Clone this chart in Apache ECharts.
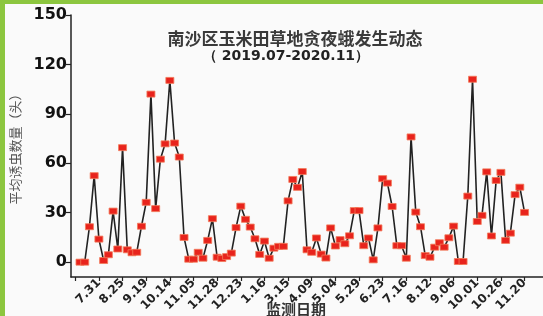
<!DOCTYPE html>
<html>
<head>
<meta charset="utf-8">
<script src="https://cdn.jsdelivr.net/npm/echarts@6/dist/echarts.min.js"></script>
<style>
html,body{margin:0;padding:0;background:#fafafa;}
#c{width:543px;height:316px;}
</style>
</head>
<body>
<div id="c"></div>
<script>
// Average moth counts per monitoring occasion (95 occasions, 2019.07-2020.11)
var mothCounts = [
  0, 0, 21.5, 52.5, 14, 1, 4.5, 31, 8, 69.5,
  7.5, 5.7, 6, 21.8, 36.3, 102, 32.5, 62.5, 71.8, 110.3,
  72.3, 63.8, 15, 1.8, 1.8, 6, 2.4, 13.2, 26.4, 3,
  2.2, 3.4, 5.5, 21, 34, 26, 21.3, 14.2, 4.7, 12.8,
  2.4, 8.5, 9.6, 9.6, 37.2, 50.2, 45.4, 55, 7.5, 6,
  14.7, 4.9, 2.5, 20.8, 9.8, 13.7, 11.2, 16, 31.3, 31.3,
  10, 14.7, 1.4, 20.8, 50.7, 48, 33.8, 10, 10, 2.4,
  76, 30.4, 21.5, 4, 3, 9.1, 11.8, 9.1, 14.8, 21.9,
  0.4, 0.4, 40.1, 111, 24.7, 28.4, 54.8, 15.9, 49.6, 54.5,
  13.2, 17.6, 41, 45.5, 30.2
];
// Date labels on every 5th occasion (first tick unlabeled)
var dateLabels = ['', '7.31', '8.25', '9.19', '10.14', '11.05', '11.28', '12.23', '1.16', '3.15',
  '4.09', '5.04', '5.29', '6.23', '7.16', '8.12', '9.06', '10.01', '10.26', '11.20'];
var dateStep = 5;
var yTicks = [0, 30, 60, 90, 120, 150];

var xTickValues = dateLabels.map(function (_, i) { return i * dateStep; });
var seriesData = mothCounts.map(function (v, i) { return [i + 1, v]; });

var chart = echarts.init(document.getElementById('c'), null, {renderer: 'canvas'});
chart.setOption({
  backgroundColor: '#fafafa',
  animation: false,
  title: [
    {text: '南沙区玉米田草地贪夜蛾发生动态', left: 290, top: 25, textAlign: 'center',
     textStyle: {fontFamily: 'Noto Sans CJK SC', fontSize: 17, fontWeight: 'bold', color: '#3a3a3a'}},
    {text: '（ 2019.07-2020.11）', left: 281, top: 44, textAlign: 'center',
     textStyle: {fontFamily: 'DejaVu Sans', fontSize: 14, fontWeight: 'bold', color: '#222'}}
  ],
  graphic: [
    {type: 'rect', left: 0, top: 0, shape: {width: 543, height: 4}, style: {fill: '#8cc63f'}, z: 100},
    {type: 'rect', left: 0, top: 0, shape: {width: 5, height: 316}, style: {fill: '#8cc63f'}, z: 100},
    {type: 'text', left: 266, top: 302, z: 50,
     style: {text: '监测日期', fontFamily: 'Noto Sans CJK SC', fontSize: 15, fontWeight: 'bold', fill: '#333'}}
  ],
  grid: {left: 71, right: 0, top: 15, bottom: 39, containLabel: false, outerBoundsMode: 'none'},
  xAxis: {
    type: 'value', min: -0.9, max: 98.9,
    axisLine: {show: true, onZero: false, lineStyle: {color: '#222', width: 1.5}},
    axisTick: {show: true, customValues: xTickValues, length: 4, lineStyle: {color: '#222', width: 1.2}},
    axisLabel: {
      customValues: xTickValues, rotate: 45, margin: 4,
      fontFamily: 'DejaVu Sans', fontSize: 12, fontWeight: 'bold', color: '#222',
      formatter: function (v) { return dateLabels[Math.round(v / dateStep)] || ''; }
    },
    splitLine: {show: false}
  },
  yAxis: {
    type: 'value', min: -9, max: 150,
    axisLine: {show: true, onZero: false, lineStyle: {color: '#222', width: 1.5}},
    axisTick: {show: true, customValues: yTicks, length: 5, lineStyle: {color: '#222', width: 1.2}},
    axisLabel: {customValues: yTicks, margin: 4, fontFamily: 'DejaVu Sans', fontSize: 16, fontWeight: 'bold', color: '#111'},
    splitLine: {show: false},
    name: '平均诱虫数量（头）', nameLocation: 'middle', nameGap: 49,
    nameTextStyle: {fontFamily: 'Noto Sans CJK SC', fontSize: 13, color: '#555'}
  },
  series: [{
    type: 'line', data: seriesData,
    lineStyle: {color: '#222', width: 1.6},
    symbol: 'rect', symbolSize: [8, 6],
    itemStyle: {color: '#e8231c', borderColor: '#f27a5a', borderWidth: 0.8},
    z: 3
  }]
});
</script>
</body>
</html>
